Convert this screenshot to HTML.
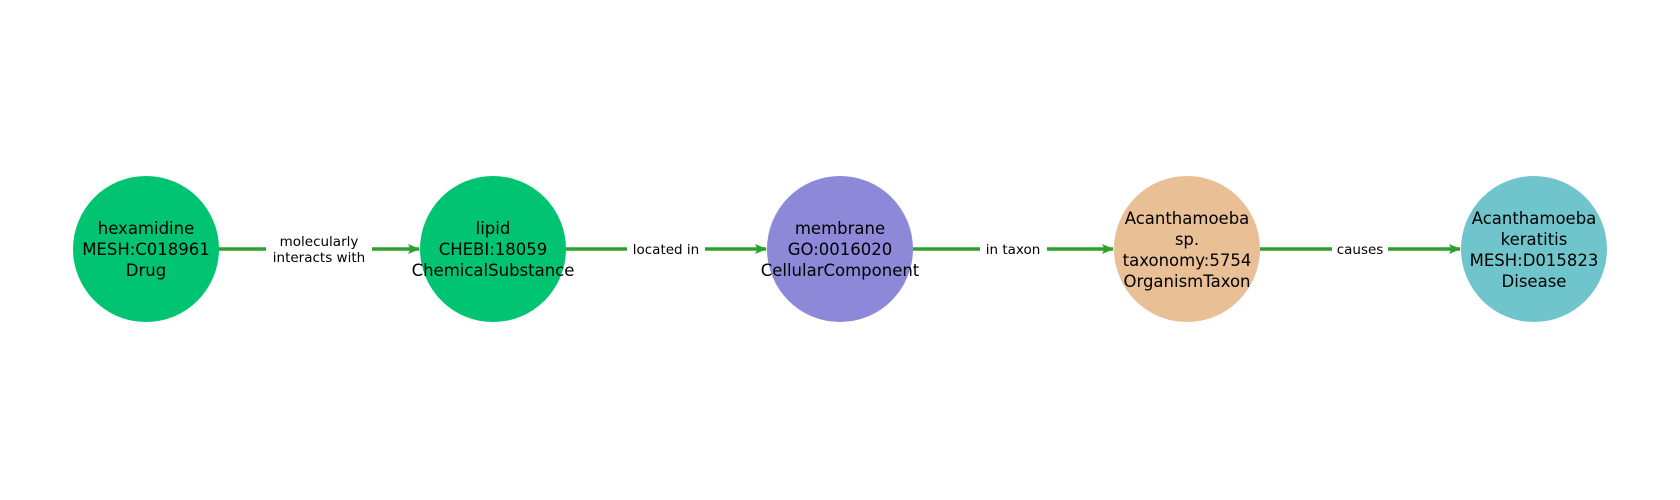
<!DOCTYPE html>
<html><head><style>body{margin:0;background:#fff}svg{display:block}</style></head><body>
<svg width="1680" height="500" xmlns="http://www.w3.org/2000/svg" font-family="'DejaVu Sans','Liberation Sans',sans-serif">
<defs><marker id="a" markerWidth="12" markerHeight="12" refX="11" refY="6" orient="auto" markerUnits="userSpaceOnUse"><path d="M0,1 L12,6 L0,11 L2.5,6 Z" fill="#2ca02c"/></marker></defs>
<g stroke="#2ca02c" stroke-width="3.5" marker-end="url(#a)">
<line x1="218" y1="249" x2="419" y2="249"/>
<line x1="566" y1="249" x2="766" y2="249"/>
<line x1="913" y1="249" x2="1113" y2="249"/>
<line x1="1260" y1="249" x2="1460" y2="249"/>
</g>
<g fill="#fff"><rect x="266" y="232" width="106" height="36"/><rect x="627" y="240" width="78" height="18"/><rect x="980" y="240" width="67" height="18"/><rect x="1332" y="240" width="56" height="18"/></g>
<g font-size="13.5" text-anchor="middle" fill="#000">
<text x="319" y="246">molecularly</text><text x="319" y="262">interacts with</text>
<text x="666" y="254">located in</text>
<text x="1013" y="254">in taxon</text>
<text x="1360" y="254">causes</text>
</g>
<circle cx="146" cy="249" r="73" fill="#00c471"/>
<circle cx="493" cy="249" r="73" fill="#00c471"/>
<circle cx="840" cy="249" r="73" fill="#8e88d8"/>
<circle cx="1187" cy="249" r="73" fill="#e9bf96"/>
<circle cx="1534" cy="249" r="73" fill="#70c5cc"/>
<g font-size="16.5" text-anchor="middle" fill="#000">
<text x="146" y="234">hexamidine</text><text x="146" y="255">MESH:C018961</text><text x="146" y="276">Drug</text>
<text x="493" y="234">lipid</text><text x="493" y="255">CHEBI:18059</text><text x="493" y="276">ChemicalSubstance</text>
<text x="840" y="234">membrane</text><text x="840" y="255">GO:0016020</text><text x="840" y="276">CellularComponent</text>
<text x="1187" y="224">Acanthamoeba</text><text x="1187" y="245">sp.</text><text x="1187" y="266">taxonomy:5754</text><text x="1187" y="287">OrganismTaxon</text>
<text x="1534" y="224">Acanthamoeba</text><text x="1534" y="245">keratitis</text><text x="1534" y="266">MESH:D015823</text><text x="1534" y="287">Disease</text>
</g>
</svg>
</body></html>
